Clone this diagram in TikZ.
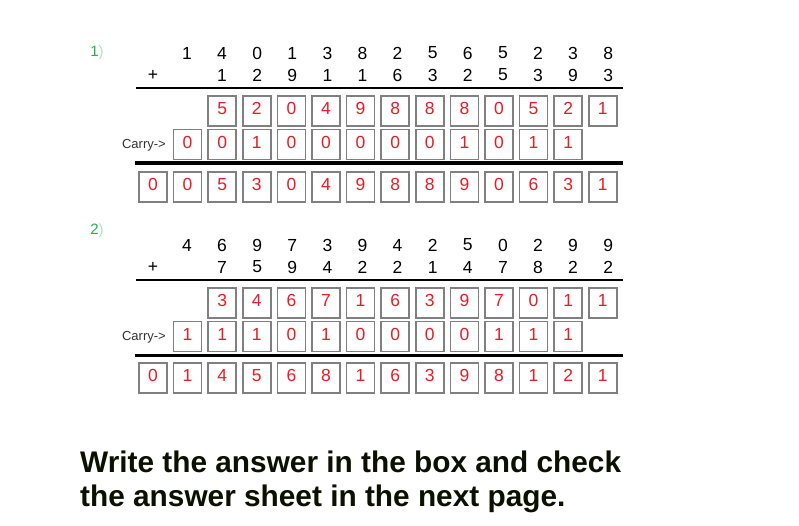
\documentclass[tikz,border=0pt]{standalone}
\usepackage{fontspec}
\setmainfont{Liberation Sans}
\definecolor{boxgray}{RGB}{128,128,128}
\definecolor{ansred}{RGB}{236,28,36}
\definecolor{numgreen}{RGB}{34,177,76}
\definecolor{notedark}{RGB}{12,16,0}
\tikzset{
  digit/.style={font=\fontsize{17.5}{20}\selectfont, inner sep=0pt},
  ansbox/.style={draw=boxgray, line width=1.5pt, minimum width=28pt, minimum height=30pt,
    inner sep=0pt, text=ansred, font=\fontsize{17.5}{20}\selectfont, text height=12.5pt, text depth=5pt},
  rule/.style={line width=2.5pt},
  carrylabel/.style={font=\fontsize{13}{15}\selectfont, text=black!80, anchor=east, inner sep=0pt},
  qnum/.style={font=\fontsize{15}{17}\selectfont, text=numgreen, inner sep=0pt},
  note/.style={font=\bfseries\fontsize{29.8}{34}\selectfont, text=notedark, anchor=base west, inner sep=0pt}
}

\begin{document}
\begin{tikzpicture}[x=1pt, y=-1pt]
  \path[fill=white] (0,0) rectangle (799,525);

  % first sum
  \node[qnum] at (97, 52.5) (q_one) {1{\color{numgreen!35})}};
  \foreach \d [count=\k from 1] in {1,4,0,1,3,8,2,5,6,5,2,3,8}
    \node[digit] at ({151.9+35.1*\k}, 53) (top1_\k) {\d};
  \node[digit] at (153, 75) (plus1) {+};
  \foreach \d [count=\k from 2] in {1,2,9,1,1,6,3,2,5,3,9,3}
    \node[digit] at ({151.9+35.1*\k}, 75) (low1_\k) {\d};
  \coordinate (rule1a_l) at (136, 88);
  \coordinate (rule1a_r) at (623, 88);
  \draw[rule] (rule1a_l) -- (rule1a_r);
  \foreach \d [count=\k from 2] in {5,2,0,4,9,8,8,8,0,5,2,1}
    \node[ansbox] at ({153+34.6*\k}, 111) (sum1_\k) {\d};
  \node[carrylabel] at (166, 145) (carry1) {Carry->};
  \foreach \d [count=\k from 1] in {0,0,1,0,0,0,0,0,1,0,1,1}
    \node[ansbox] at ({153+34.6*\k}, 144.5) (cry1_\k) {\d};
  \coordinate (rule1b_l) at (135, 163);
  \coordinate (rule1b_r) at (623, 163);
  \draw[rule, line width=3.5pt] (rule1b_l) -- (rule1b_r);
  \foreach \d [count=\k from 0] in {0,0,5,3,0,4,9,8,8,9,0,6,3,1}
    \node[ansbox] at ({153+34.6*\k}, 187) (res1_\k) {\d};

  % second sum
  \node[qnum] at (97, 231) (q_two) {2{\color{numgreen!35})}};
  \foreach \d [count=\k from 1] in {4,6,9,7,3,9,4,2,5,0,2,9,9}
    \node[digit] at ({151.9+35.1*\k}, 245) (top2_\k) {\d};
  \node[digit] at (153, 267) (plus2) {+};
  \foreach \d [count=\k from 2] in {7,5,9,4,2,2,1,4,7,8,2,2}
    \node[digit] at ({151.9+35.1*\k}, 267) (low2_\k) {\d};
  \coordinate (rule2a_l) at (136, 280);
  \coordinate (rule2a_r) at (623, 280);
  \draw[rule] (rule2a_l) -- (rule2a_r);
  \foreach \d [count=\k from 2] in {3,4,6,7,1,6,3,9,7,0,1,1}
    \node[ansbox] at ({153+34.6*\k}, 303) (sum2_\k) {\d};
  \node[carrylabel] at (166, 337) (carry2) {Carry->};
  \foreach \d [count=\k from 1] in {1,1,1,0,1,0,0,0,0,1,1,1}
    \node[ansbox] at ({153+34.6*\k}, 336.5) (cry2_\k) {\d};
  \coordinate (rule2b_l) at (135, 355);
  \coordinate (rule2b_r) at (623, 355);
  \draw[rule, line width=3pt] (rule2b_l) -- (rule2b_r);
  \foreach \d [count=\k from 0] in {0,1,4,5,6,8,1,6,3,9,8,1,2,1}
    \node[ansbox] at ({153+34.6*\k}, 378) (res2_\k) {\d};

  \node[note] at (80, 472) (note_a) {Write the answer in the box and check};
  \node[note] at (80, 506) (note_b) {the answer sheet in the next page.};
\end{tikzpicture}
\end{document}
